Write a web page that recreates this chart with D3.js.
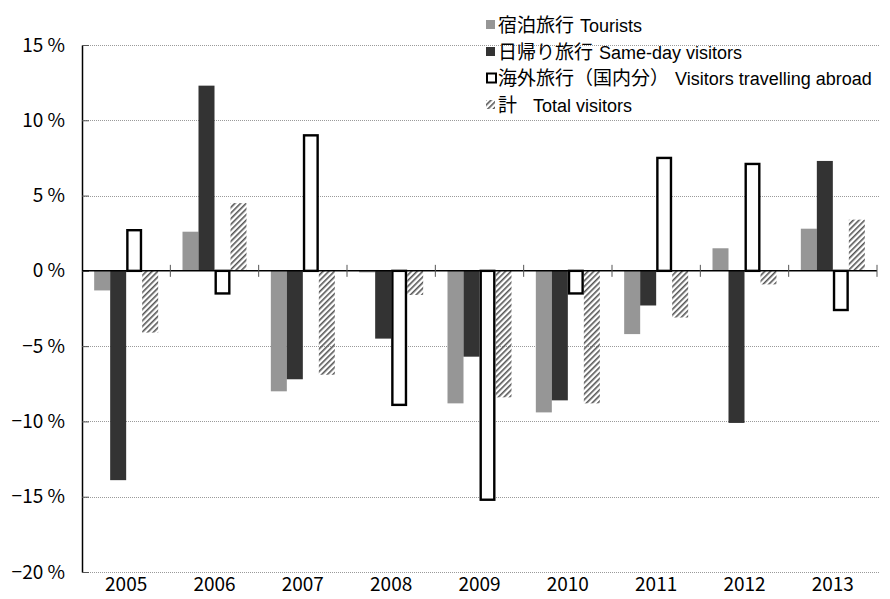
<!DOCTYPE html>
<html>
  <head>
    <meta charset="utf-8">
    <title></title>
  </head>
  <style>
    body { margin: 0; background: #fff; }
    svg { display: block; font-family: "Noto Sans CJK JP", "Liberation Sans", sans-serif; }
  </style>
  <script src="https://d3js.org/d3.v7.min.js"></script>
  <body>
    <script>
    // data
    var years = ["2005", "2006", "2007", "2008", "2009", "2010", "2011", "2012", "2013"]
    var tourists = [-1.3, 2.6, -8.0, -0.1, -8.8, -9.4, -4.2, 1.5, 2.8]
    var sameDay = [-13.9, 12.3, -7.2, -4.5, -5.7, -8.6, -2.3, -10.1, 7.3]
    var abroad = [2.7, -1.5, 9.0, -8.9, -15.2, -1.5, 7.5, 7.1, -2.6]
    var total = [-4.1, 4.5, -6.9, -1.6, -8.4, -8.8, -3.1, -0.9, 3.4]
    var yTicks = [15, 10, 5, 0, -5, -10, -15, -20]
    var seriesKeys = ["tourists", "sameDay", "abroad", "total"]
    var legendJa = ["宿泊旅行", "日帰り旅行", "海外旅行（国内分）", "計"]
    var legendEn = ["Tourists", "Same-day visitors", "Visitors travelling abroad", "Total visitors"]

    // layout
    var width = 890
    var height = 599
    var pad = { left: 82, right: 877, top: 45, bottom: 572 }

    var svg = d3.select("body")
                .append("svg")
                .attr("width", width)
                .attr("height", height)

    // hatch pattern for total
    svg.append("defs").append("pattern")
       .attr("id", "hatch")
       .attr("patternUnits", "userSpaceOnUse")
       .attr("width", 4)
       .attr("height", 4)
       .attr("patternTransform", "rotate(45)")
       .append("rect")
       .attr("x", 0).attr("y", 0)
       .attr("width", 1.6).attr("height", 4)
       .attr("fill", "#555")

    var yScale = d3.scaleLinear().domain([-20, 15]).range([pad.bottom, pad.top])
    var x0 = d3.scaleBand().domain(years).range([pad.left, pad.right])
    var groupW = 64
    var x1 = d3.scaleBand().domain(seriesKeys).range([0, groupW])

    // grid lines
    svg.append("g").selectAll("line")
       .data(yTicks.filter(function(d){ return d !== 0 }))
       .enter().append("line")
       .attr("x1", pad.left).attr("x2", pad.right + 2)
       .attr("y1", function(d){ return Math.round(yScale(d)) + 0.5 })
       .attr("y2", function(d){ return Math.round(yScale(d)) + 0.5 })
       .attr("stroke", "#9a9a9a")
       .attr("stroke-width", 1)
       .attr("stroke-dasharray", "1,1")

    // y axis
    var yAxis = d3.axisLeft(yScale).tickValues(yTicks).tickSize(0).tickPadding(17)
                  .tickFormat(function(d){ return (d < 0 ? "\u2212" + (-d) : d) + " %" })
    var gy = svg.append("g")
       .attr("transform", "translate(" + pad.left + ",0)")
       .call(yAxis)
    gy.select(".domain").attr("stroke", "#000").attr("stroke-width", 1.5)
    gy.selectAll("text").attr("font-size", "19px").attr("fill", "#000")
      .attr("font-family", "\"Noto Sans CJK JP\", sans-serif")
    gy.selectAll(".tick").append("line")
      .attr("x1", 0).attr("x2", 7).attr("stroke", "#555")

    var rows = years.map(function(y, i){
      return { year: y, tourists: tourists[i], sameDay: sameDay[i], abroad: abroad[i], total: total[i] }
    })

    var fills = { tourists: "#969696", sameDay: "#333333", total: "url(#hatch)" }

    var groups = svg.append("g").selectAll("g")
       .data(rows).enter().append("g")
       .attr("transform", function(d){
         return "translate(" + (x0(d.year) + (x0.bandwidth() - groupW) / 2) + ",0)"
       })

    groups.selectAll("rect")
       .data(function(d){ return seriesKeys.map(function(k){ return { key: k, value: d[k] } }) })
       .enter().append("rect")
       .attr("x", function(d){ return d.key === "abroad" ? x1(d.key) + 1.2 : x1(d.key) })
       .attr("width", function(d){ return d.key === "abroad" ? x1.bandwidth() - 2.4 : x1.bandwidth() })
       .attr("y", function(d){ return yScale(Math.max(0, d.value)) })
       .attr("height", function(d){ return Math.abs(yScale(d.value) - yScale(0)) })
       .attr("fill", function(d){ return d.key === "abroad" ? "#fff" : fills[d.key] })
       .attr("stroke", function(d){ return d.key === "abroad" ? "#000" : "none" })
       .attr("stroke-width", 2.4)

    // zero line with category ticks
    var y0 = yScale(0)
    svg.append("line")
       .attr("x1", pad.left).attr("x2", pad.right)
       .attr("y1", y0).attr("y2", y0)
       .attr("stroke", "#000").attr("stroke-width", 1.5)
    svg.append("g").selectAll("line")
       .data(years.slice(1).concat(["end"]))
       .enter().append("line")
       .attr("x1", function(d){ return d === "end" ? pad.right : x0(d) })
       .attr("x2", function(d){ return d === "end" ? pad.right : x0(d) })
       .attr("y1", y0 - 6).attr("y2", y0 + 6)
       .attr("stroke", "#555").attr("stroke-width", 1)

    // x labels
    svg.append("g").selectAll("text")
       .data(years).enter().append("text")
       .attr("x", function(d){ return x0(d) + x0.bandwidth() / 2 })
       .attr("y", 591)
       .attr("text-anchor", "middle")
       .attr("font-size", "19px")
       .text(function(d){ return d })

    // legend
    var legend = svg.append("g").attr("transform", "translate(485,0)")
    var ly = [25, 52, 78, 105]
    seriesKeys.forEach(function(k, i){
      var g = legend.append("g").attr("transform", "translate(0," + ly[i] + ")")
      if (k === "abroad") {
        g.append("rect").attr("x", 2).attr("y", -4.5).attr("width", 9).attr("height", 9)
         .attr("fill", "#fff").attr("stroke", "#000").attr("stroke-width", 2)
      } else {
        g.append("rect").attr("x", 1).attr("y", -5).attr("width", 9).attr("height", 9)
         .attr("fill", fills[k])
      }
      var t = g.append("text")
       .attr("x", 13).attr("dy", "0.36em")
       .attr("font-size", "19px")
      t.append("tspan").text(legendJa[i])
      t.append("tspan")
       .attr("dx", k === "total" ? 16 : 6)
       .attr("font-size", "18px")
       .attr("font-family", "\"Liberation Sans\", sans-serif")
       .text(legendEn[i])
    })
    </script>
  </body>
</html>
